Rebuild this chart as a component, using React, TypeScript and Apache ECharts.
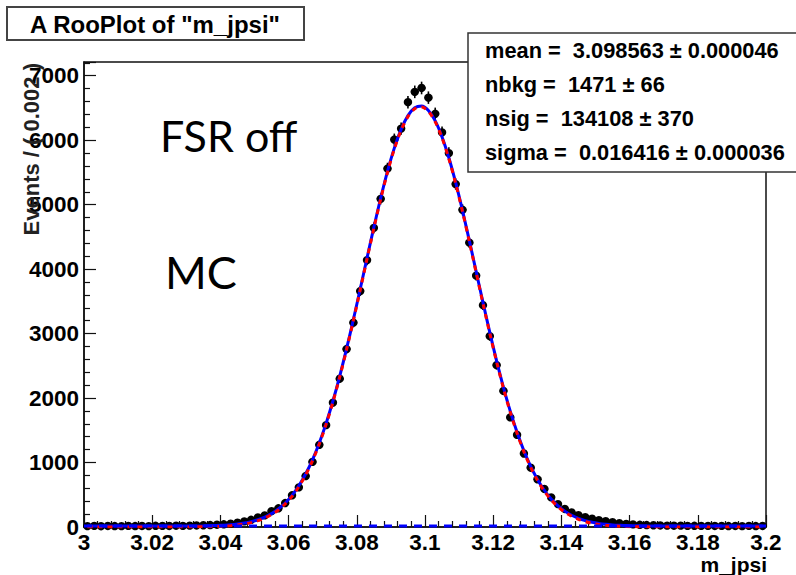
import React, { useEffect, useRef } from "react";
import * as echarts from "echarts";

// Bin centres of the m_jpsi histogram (bin width 0.002)
const binCenters = [
  3.001, 3.003, 3.005, 3.007, 3.009, 3.011, 3.013, 3.015, 3.017, 3.019,
  3.021, 3.023, 3.025, 3.027, 3.029, 3.031, 3.033, 3.035, 3.037, 3.039,
  3.041, 3.043, 3.045, 3.047, 3.049, 3.051, 3.053, 3.055, 3.057, 3.059,
  3.061, 3.063, 3.065, 3.067, 3.069, 3.071, 3.073, 3.075, 3.077, 3.079,
  3.081, 3.083, 3.085, 3.087, 3.089, 3.091, 3.093, 3.095, 3.097, 3.099,
  3.101, 3.103, 3.105, 3.107, 3.109, 3.111, 3.113, 3.115, 3.117, 3.119,
  3.121, 3.123, 3.125, 3.127, 3.129, 3.131, 3.133, 3.135, 3.137, 3.139,
  3.141, 3.143, 3.145, 3.147, 3.149, 3.151, 3.153, 3.155, 3.157, 3.159,
  3.161, 3.163, 3.165, 3.167, 3.169, 3.171, 3.173, 3.175, 3.177, 3.179,
  3.181, 3.183, 3.185, 3.187, 3.189, 3.191, 3.193, 3.195, 3.197, 3.199,
];

// Events per bin (data points)
const dataCounts = [
  14, 17, 12, 16, 15, 13, 18, 15, 16, 14,
  19, 17, 16, 20, 18, 22, 24, 27, 30, 36,
  42, 52, 66, 88, 112, 150, 180, 245, 290, 372,
  492, 615, 790, 1010, 1275, 1580, 1930, 2300, 2760, 3170,
  3660, 4140, 4640, 5090, 5560, 6010, 6180, 6590, 6750, 6810,
  6660, 6410, 6120, 5800, 5320, 4920, 4410, 3900, 3440, 2960,
  2510, 2110, 1700, 1430, 1140, 920, 740, 590, 460, 355,
  280, 225, 183, 152, 128, 106, 90, 75, 60, 48,
  40, 34, 30, 27, 24, 22, 20, 21, 18, 19,
  17, 18, 16, 17, 15, 16, 14, 17, 15, 16,
];

// Total fit curve (blue solid) at bin centres
const totalCurve = [
  15, 15, 15, 15, 15, 15, 15, 15, 15, 15,
  15, 15, 15, 15, 16, 16, 17, 18, 20, 24,
  29, 36, 47, 62, 83, 113, 154, 208, 279, 372,
  490, 639, 821, 1041, 1303, 1607, 1954, 2342, 2766, 3219,
  3692, 4173, 4648, 5101, 5516, 5877, 6169, 6381, 6503, 6531,
  6461, 6299, 6051, 5727, 5340, 4907, 4442, 3963, 3484, 3018,
  2576, 2167, 1797, 1469, 1183, 940, 737, 570, 435, 329,
  246, 182, 134, 99, 73, 55, 42, 33, 27, 22,
  20, 18, 17, 16, 16, 15, 15, 15, 15, 15,
  15, 15, 15, 15, 15, 15, 15, 15, 15, 15,
];

// Signal component (red dashed) at bin centres
const signalCurve = [
  0, 0, 0, 0, 0, 0, 0, 0, 0, 0,
  0, 0, 0, 0, 1, 1, 2, 3, 5, 9,
  14, 21, 32, 47, 68, 98, 139, 193, 264, 357,
  475, 624, 806, 1026, 1288, 1592, 1939, 2327, 2751, 3204,
  3677, 4158, 4633, 5086, 5501, 5862, 6154, 6366, 6488, 6516,
  6447, 6284, 6036, 5712, 5325, 4892, 4427, 3948, 3469, 3003,
  2561, 2152, 1782, 1454, 1168, 925, 722, 555, 420, 314,
  231, 167, 119, 84, 58, 40, 27, 18, 12, 7,
  5, 3, 2, 1, 1, 0, 0, 0, 0, 0,
  0, 0, 0, 0, 0, 0, 0, 0, 0, 0,
];

// Background component (blue dashed), flat
const bkgX = [3.0, 3.2];
const bkgLevel = [14.7, 14.7];

const statsLines = [
  "mean =  3.098563 \u00b1 0.000046",
  "nbkg =  1471 \u00b1 66",
  "nsig =  134108 \u00b1 370",
  "sigma =  0.016416 \u00b1 0.000036",
];

const titleText = 'A RooPlot of "m_jpsi"';
const yTitle = "Events / ( 0.002 )";
const xTitle = "m_jpsi";
const notes = ["FSR off", "MC"];

const ROOT_FONT = "'Liberation Sans', Arial, Helvetica, sans-serif";

export default function App() {
  const ref = useRef<HTMLDivElement>(null);

  useEffect(() => {
    if (!ref.current) return;
    const chart = echarts.init(ref.current, undefined, { renderer: "svg" });

    const pts = binCenters.map((x, i) => [x, dataCounts[i]]);
    const tot = binCenters.map((x, i) => [x, totalCurve[i]]);
    const sig = binCenters.map((x, i) => [x, signalCurve[i]]);
    const bkg = bkgX.map((x, i) => [x, bkgLevel[i]]);

    const axisLabelStyle = {
      fontFamily: ROOT_FONT,
      fontWeight: "bold" as const,
      fontSize: 22.5,
      color: "#000",
    };

    chart.setOption({
      animation: false,
      backgroundColor: "#fff",
      grid: {
        left: 84,
        top: 62,
        width: 682,
        height: 465,
        show: true,
        borderColor: "#111",
        borderWidth: 1.5,
        backgroundColor: "#fff",
      },
      xAxis: {
        type: "value",
        min: 3.0,
        max: 3.2,
        interval: 0.02,
        axisLine: { show: true, onZero: false, lineStyle: { color: "#111", width: 1.5 } },
        axisTick: { show: true, inside: true, length: 12, lineStyle: { color: "#111", width: 1.2 } },
        minorTick: { show: true, splitNumber: 5, length: 6, lineStyle: { color: "#111", width: 1.2 } },
        splitLine: { show: false },
        axisLabel: {
          ...axisLabelStyle,
          margin: 4,
          showMinLabel: true,
          showMaxLabel: true,
          hideOverlap: false,
          formatter: (v: number) => String(Number(v.toFixed(3))),
        },
      },
      yAxis: {
        type: "value",
        min: 0,
        max: 7213,
        interval: 1000,
        axisLine: { show: true, onZero: false, lineStyle: { color: "#111", width: 1.5 } },
        axisTick: { show: true, inside: true, length: 12, lineStyle: { color: "#111", width: 1.2 } },
        minorTick: { show: true, splitNumber: 5, length: 6, lineStyle: { color: "#111", width: 1.2 } },
        splitLine: { show: false },
        axisLabel: {
          ...axisLabelStyle,
          margin: 5,
          showMaxLabel: false,
          formatter: (v: number) => (v % 1000 === 0 ? String(v) : ""),
        },
      },
      series: [
        {
          type: "custom",
          name: "data",
          data: pts,
          encode: { x: 0, y: 1 },
          z: 2,
          renderItem: (_params: any, api: any) => {
            const x = api.value(0) as number;
            const y = api.value(1) as number;
            const err = Math.sqrt(Math.max(y, 0));
            const c = api.coord([x, y]);
            const top = api.coord([x, y + err]);
            const bot = api.coord([x, Math.max(0, y - err)]);
            const l = api.coord([x - 0.001, y]);
            const r = api.coord([x + 0.001, y]);
            return {
              type: "group",
              children: [
                {
                  type: "line",
                  shape: { x1: c[0], y1: top[1] - 1, x2: c[0], y2: bot[1] + 1 },
                  style: { stroke: "#000", lineWidth: 1.6 },
                },
                {
                  type: "line",
                  shape: { x1: l[0] - 0.5, y1: c[1], x2: r[0] + 0.5, y2: c[1] },
                  style: { stroke: "#000", lineWidth: 1.6 },
                },
                {
                  type: "circle",
                  shape: { cx: c[0], cy: c[1], r: 4.2 },
                  style: { fill: "#000" },
                },
              ],
            };
          },
        },
        {
          type: "line",
          name: "total",
          data: tot,
          symbol: "none",
          smooth: 0.3,
          z: 4,
          lineStyle: { color: "#0000ff", width: 3 },
        },
        {
          type: "line",
          name: "signal",
          data: sig,
          symbol: "none",
          smooth: 0.3,
          z: 5,
          lineStyle: { color: "#ff0000", width: 3, type: [5, 5] },
        },
        {
          type: "line",
          name: "bkg",
          data: bkg,
          symbol: "none",
          z: 6,
          lineStyle: { color: "#0000ff", width: 3, type: [8, 7] },
        },
      ],
      graphic: [
        // title box
        {
          type: "rect",
          z: 100,
          shape: { x: 7, y: 7, width: 297, height: 33 },
          style: { fill: "#fff", stroke: "#444", lineWidth: 2 },
        },
        {
          type: "text",
          z: 101,
          x: 155,
          y: 24,
          style: {
            text: titleText,
            fontFamily: ROOT_FONT,
            fontWeight: "bold",
            fontSize: 24,
            fill: "#000",
            textAlign: "center",
            textVerticalAlign: "middle",
          },
        },
        // stats box
        {
          type: "rect",
          z: 100,
          shape: { x: 468, y: 33, width: 340, height: 139 },
          style: { fill: "#fff", stroke: "#333", lineWidth: 1.5 },
        },
        ...statsLines.map((t, i) => ({
          type: "text",
          z: 101,
          x: 485,
          y: 50 + i * 34.3,
          style: {
            text: t,
            fontFamily: ROOT_FONT,
            fontWeight: "bold",
            fontSize: 21.8,
            fill: "#000",
            textAlign: "left",
            textVerticalAlign: "middle",
          },
        })),
        // y axis title
        {
          type: "text",
          z: 50,
          x: 31,
          y: 63,
          rotation: Math.PI / 2,
          style: {
            text: yTitle,
            fontFamily: ROOT_FONT,
            fontWeight: "bold",
            fontSize: 22,
            fill: "#222",
            textAlign: "right",
            textVerticalAlign: "middle",
          },
        },
        // x axis title
        {
          type: "text",
          z: 50,
          x: 767,
          y: 564,
          style: {
            text: xTitle,
            fontFamily: ROOT_FONT,
            fontWeight: "bold",
            fontSize: 21,
            fill: "#000",
            textAlign: "right",
            textVerticalAlign: "middle",
          },
        },
        // annotations
        {
          type: "text",
          z: 50,
          x: 160,
          y: 135,
          style: {
            text: notes[0],
            fontFamily: "Lato, 'Open Sans', sans-serif",
            fontSize: 43,
            fill: "#000",
            textAlign: "left",
            textVerticalAlign: "middle",
          },
        },
        {
          type: "text",
          z: 50,
          x: 165,
          y: 272,
          style: {
            text: notes[1],
            fontFamily: "Lato, 'Open Sans', sans-serif",
            fontSize: 45,
            fill: "#000",
            textAlign: "left",
            textVerticalAlign: "middle",
          },
        },
      ],
    });

    return () => chart.dispose();
  }, []);

  return (
    <div
      ref={ref}
      style={{ position: "fixed", left: 0, top: 0, width: 796, height: 575 }}
    />
  );
}
